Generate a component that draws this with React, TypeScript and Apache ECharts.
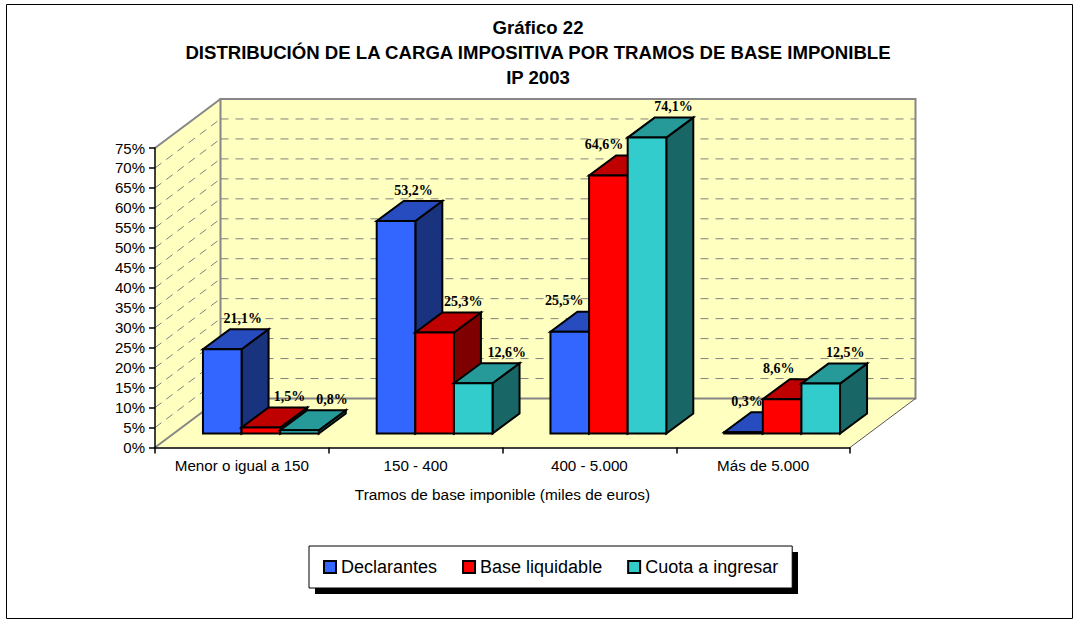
import React, { useEffect, useRef } from "react";
import * as echarts from "echarts";

const categories = ["Menor o igual a 150", "150 - 400", "400 - 5.000", "Más de 5.000"];
const seriesNames = ["Declarantes", "Base liquidable", "Cuota a ingresar"];
const declarantes = [21.1, 53.2, 25.5, 0.3];
const baseLiquidable = [1.5, 25.3, 64.6, 8.6];
const cuotaIngresar = [0.8, 12.6, 74.1, 12.5];
const yTicks = [5, 10, 15, 20, 25, 30, 35, 40, 45, 50, 55, 60, 65, 70];

const allValues = [declarantes, baseLiquidable, cuotaIngresar];
const palette = [
  { front: "#3366FF", top: "#264CBF", side: "#19337F" },
  { front: "#FF0000", top: "#BF0000", side: "#7F0000" },
  { front: "#33CCCC", top: "#269999", side: "#196666" },
];
// horizontal nudge of the value labels relative to each bar's top face
const labelNudge = [
  [7, 4, -19, -10],
  [15, 15, -18, -17],
  [19, 20, 13, 11],
];

const WALL_DX = 65.5;
const WALL_DY = 49;
const BAR_DX = 27;
const BAR_DY = 20;
const BAR_SHIFT_X = 19;
const BAR_SHIFT_Y = 14;
const WALL_FILL = "#FFFFC0";
const WALL_LINE = "#868686";

function fmt(v: number) {
  return v.toFixed(1).replace(".", ",") + "%";
}

const wallRender = (params: any) => {
  const c = params.coordSys;
  const x0 = c.x, x1 = c.x + c.width, yT = c.y, yB = c.y + c.height;
  return {
    type: "group",
    children: [
      {
        type: "polygon",
        shape: { points: [[x0, yB], [x1, yB], [x1 + WALL_DX, yB - WALL_DY], [x0 + WALL_DX, yB - WALL_DY]] },
        style: { fill: WALL_FILL, stroke: null },
      },
      {
        type: "polygon",
        shape: { points: [[x0, yB], [x0, yT], [x0 + WALL_DX, yT - WALL_DY], [x0 + WALL_DX, yB - WALL_DY]] },
        style: { fill: WALL_FILL, stroke: null },
      },
      {
        type: "rect",
        shape: { x: x0 + WALL_DX, y: yT - WALL_DY, width: c.width, height: c.height },
        style: { fill: WALL_FILL, stroke: WALL_LINE, lineWidth: 2 },
      },
      {
        type: "polyline",
        shape: { points: [[x0, yB], [x0 + WALL_DX, yB - WALL_DY]] },
        style: { fill: null, stroke: WALL_LINE, lineWidth: 2 },
      },
      {
        type: "polyline",
        shape: { points: [[x0, yT], [x0 + WALL_DX, yT - WALL_DY]] },
        style: { fill: null, stroke: WALL_LINE, lineWidth: 2 },
      },
      {
        type: "polyline",
        shape: { points: [[x1, yB], [x1 + WALL_DX, yB - WALL_DY]] },
        style: { fill: null, stroke: "#555555", lineWidth: 1 },
      },
    ],
  };
};

const gridRender = (params: any, api: any) => {
  const c = params.coordSys;
  const y = api.coord([0, api.value(0)])[1];
  const x0 = c.x;
  const x1 = c.x + c.width;
  return {
    type: "group",
    children: [
      {
        type: "line",
        shape: { x1: x0, y1: y, x2: x0 + WALL_DX, y2: y - WALL_DY },
        style: { stroke: "#808080", lineWidth: 1, lineDash: [8, 6] },
      },
      {
        type: "line",
        shape: { x1: x0 + WALL_DX, y1: y - WALL_DY, x2: x1 + WALL_DX, y2: y - WALL_DY },
        style: { stroke: "#808080", lineWidth: 1, lineDash: [8, 7] },
      },
    ],
  };
};

const barRender = (seriesIdx: number) => (params: any, api: any) => {
  const cat = api.value(0);
  const val = api.value(1);
  const centre = api.coord([cat, 0]);
  const top = api.coord([cat, val]);
  const w = api.size([1, 0])[0] / 4.5;
  const xL = centre[0] + BAR_SHIFT_X + (seriesIdx - 1.5) * w;
  const xR = xL + w;
  const yB = centre[1] - BAR_SHIFT_Y;
  const yT = top[1] - BAR_SHIFT_Y;
  const col = palette[seriesIdx];
  const border = { stroke: "#000", lineWidth: 2, lineJoin: "miter" };
  return {
    type: "group",
    children: [
      {
        type: "polygon",
        shape: { points: [[xR, yB], [xR, yT], [xR + BAR_DX, yT - BAR_DY], [xR + BAR_DX, yB - BAR_DY]] },
        style: { fill: col.side, ...border },
      },
      {
        type: "polygon",
        shape: { points: [[xL, yT], [xR, yT], [xR + BAR_DX, yT - BAR_DY], [xL + BAR_DX, yT - BAR_DY]] },
        style: { fill: col.top, ...border },
      },
      {
        type: "rect",
        shape: { x: xL, y: yT, width: w, height: yB - yT },
        style: { fill: col.front, ...border },
      },
      {
        type: "text",
        style: {
          x: xL + w / 2 + BAR_DX / 2 + labelNudge[seriesIdx][cat],
          y: yT - BAR_DY - 11,
          text: fmt(val),
          fill: "#000",
          font: "bold 14px 'Liberation Serif'",
          align: "center",
          verticalAlign: "middle",
        },
      },
    ],
  };
};

export default function App() {
  const ref = useRef<HTMLDivElement>(null);
  useEffect(() => {
    const chart = echarts.init(ref.current!, undefined, { renderer: "svg" });
    const sans = "'Liberation Sans'";
    chart.setOption({
      animation: false,
      backgroundColor: "#FFFFFF",
      title: {
        text: "Gráfico 22\nDISTRIBUCIÓN DE LA CARGA IMPOSITIVA POR TRAMOS DE BASE IMPONIBLE\nIP 2003",
        left: 533,
        top: 10,
        textAlign: "center",
        textStyle: { fontFamily: sans, fontSize: 18.6, fontWeight: "bold", color: "#000", lineHeight: 25 },
      },
      grid: { left: 155, top: 148, width: 695, height: 299.5 },
      xAxis: {
        type: "category",
        data: categories,
        z: 6,
        axisLine: { lineStyle: { color: "#000", width: 1.5 } },
        axisTick: { show: true, interval: 0, length: 6, lineStyle: { color: "#000", width: 1.5 } },
        axisLabel: { interval: 0, fontFamily: sans, fontSize: 15.2, color: "#000", margin: 10 },
        name: "Tramos de base imponible (miles de euros)",
        nameLocation: "middle",
        nameGap: 39,
        nameTextStyle: { fontFamily: sans, fontSize: 15.4, color: "#000" },
      },
      yAxis: {
        type: "value",
        min: 0,
        max: 75,
        interval: 5,
        z: 6,
        splitLine: { show: false },
        axisLine: { show: true, lineStyle: { color: "#000", width: 1.5 } },
        axisTick: { show: true, length: 6, lineStyle: { color: "#000", width: 1.5 } },
        axisLabel: { formatter: "{value}%", fontFamily: sans, fontSize: 15, color: "#000", margin: 10 },
      },
      legend: {
        left: 309,
        top: 546,
        padding: [12, 14, 12, 14],
        itemGap: 25,
        itemWidth: 12,
        itemHeight: 12,
        icon: "rect",
        selectedMode: false,
        data: seriesNames,
        backgroundColor: "#FFFFFF",
        borderColor: "#000",
        borderWidth: 1,
        z: 8,
        itemStyle: { borderColor: "#000", borderWidth: 2 },
        textStyle: { fontFamily: sans, fontSize: 18, color: "#000" },
      },
      graphic: [
        {
          type: "rect",
          z: 0,
          shape: { x: 6.5, y: 4.5, width: 1066, height: 614 },
          style: { fill: "#FFFFFF", stroke: "#000", lineWidth: 1 },
        },
        {
          type: "rect",
          z: 7,
          shape: { x: 315, y: 552, width: 483, height: 42 },
          style: { fill: "#000" },
        },
      ],
      series: [
        {
          type: "custom",
          name: "wall",
          z: 2,
          silent: true,
          renderItem: wallRender,
          data: [[0]],
          encode: { x: -1, y: -1 },
        },
        {
          type: "custom",
          name: "grid",
          z: 3,
          silent: true,
          renderItem: gridRender,
          data: yTicks.map((v) => [v]),
          encode: { x: -1, y: 0 },
        },
        ...seriesNames.map((name, i) => ({
          type: "custom",
          name,
          z: 4,
          silent: true,
          itemStyle: { color: palette[i].front },
          renderItem: barRender(i),
          data: allValues[i].map((v, k) => [k, v]),
          encode: { x: 0, y: 1 },
        })),
      ],
    });
    return () => chart.dispose();
  }, []);
  return <div ref={ref} style={{ position: "fixed", left: 0, top: 0, width: 1079, height: 619 }} />;
}
